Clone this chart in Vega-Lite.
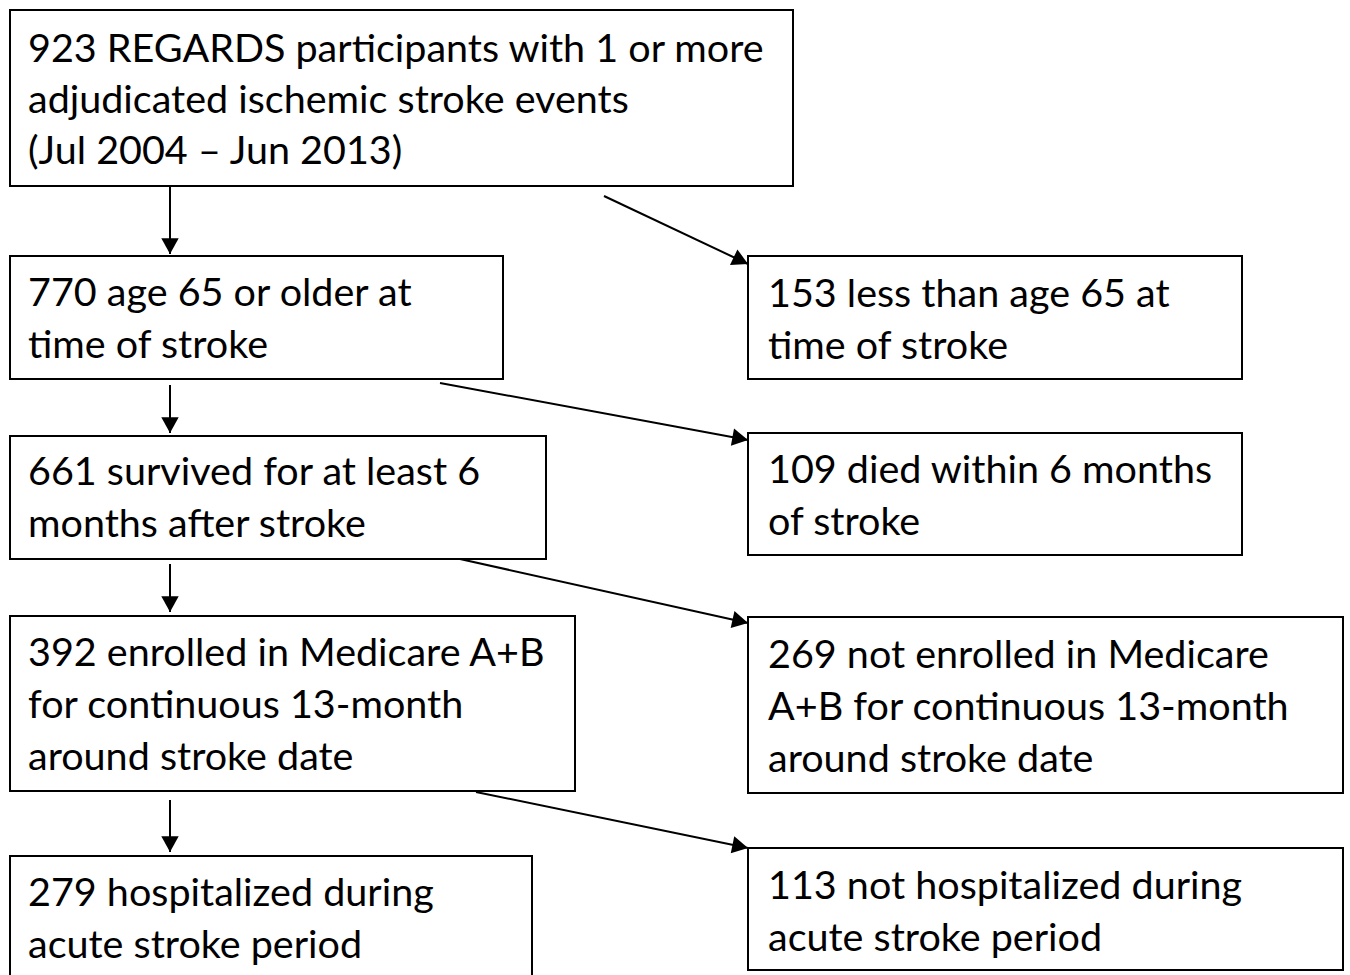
{
  "$schema": "https://vega.github.io/schema/vega-lite/v6.json",
  "width": 1350,
  "height": 975,
  "padding": 0,
  "autosize": {"type": "fit", "contains": "padding"},
  "background": "white",
  "config": {"view": {"stroke": null}},
  "datasets": {
    "boxes": [
      {"id": "b1", "x1": 10, "x2": 793, "y1": 10, "y2": 186},
      {"id": "b2", "x1": 10, "x2": 503, "y1": 256, "y2": 379},
      {"id": "b3", "x1": 10, "x2": 546, "y1": 436, "y2": 559},
      {"id": "b4", "x1": 10, "x2": 575, "y1": 616, "y2": 791},
      {"id": "b5", "x1": 10, "x2": 532, "y1": 856, "y2": 990},
      {"id": "r1", "x1": 748, "x2": 1242, "y1": 256, "y2": 379},
      {"id": "r2", "x1": 748, "x2": 1242, "y1": 433, "y2": 555},
      {"id": "r3", "x1": 748, "x2": 1343, "y1": 617, "y2": 793},
      {"id": "r4", "x1": 748, "x2": 1343, "y1": 848, "y2": 970}
    ],
    "arrows": [
      {"id": "v1", "x1": 170, "y1": 187, "x2": 170, "y2": 254},
      {"id": "v2", "x1": 170, "y1": 385, "x2": 170, "y2": 433},
      {"id": "v3", "x1": 170, "y1": 564, "x2": 170, "y2": 612},
      {"id": "v4", "x1": 170, "y1": 800, "x2": 170, "y2": 852},
      {"id": "d1", "x1": 604, "y1": 196, "x2": 748, "y2": 264},
      {"id": "d2", "x1": 440, "y1": 383, "x2": 748, "y2": 440},
      {"id": "d3", "x1": 460, "y1": 559, "x2": 748, "y2": 623},
      {"id": "d4", "x1": 476, "y1": 792, "x2": 748, "y2": 848}
    ],
    "lines": [
      {"x": 28, "y": 62, "text": "923 REGARDS participants with 1 or more"},
      {"x": 28, "y": 113, "text": "adjudicated ischemic stroke events"},
      {"x": 28, "y": 164, "text": "(Jul 2004 – Jun 2013)"},
      {"x": 28, "y": 306, "text": "770 age 65 or older at"},
      {"x": 28, "y": 358, "text": "time of stroke"},
      {"x": 768, "y": 307, "text": "153 less than age 65 at"},
      {"x": 768, "y": 359, "text": "time of stroke"},
      {"x": 28, "y": 485, "text": "661 survived for at least 6"},
      {"x": 28, "y": 537, "text": "months after stroke"},
      {"x": 768, "y": 483, "text": "109 died within 6 months"},
      {"x": 768, "y": 535, "text": "of stroke"},
      {"x": 28, "y": 666, "text": "392 enrolled in Medicare A+B"},
      {"x": 28, "y": 718, "text": "for continuous 13-month"},
      {"x": 28, "y": 770, "text": "around stroke date"},
      {"x": 768, "y": 668, "text": "269 not enrolled in Medicare"},
      {"x": 768, "y": 720, "text": "A+B for continuous 13-month"},
      {"x": 768, "y": 772, "text": "around stroke date"},
      {"x": 28, "y": 906, "text": "279 hospitalized during"},
      {"x": 28, "y": 958, "text": "acute stroke period"},
      {"x": 768, "y": 899, "text": "113 not hospitalized during"},
      {"x": 768, "y": 951, "text": "acute stroke period"}
    ]
  },
  "layer": [
    {
      "data": {"name": "boxes"},
      "mark": {"type": "rect", "fill": "white", "stroke": "black", "strokeWidth": 2, "clip": true},
      "encoding": {
        "x": {"field": "x1", "type": "quantitative", "scale": {"domain": [0, 1350], "nice": false, "zero": false}, "axis": null},
        "x2": {"field": "x2"},
        "y": {"field": "y1", "type": "quantitative", "scale": {"domain": [0, 975], "nice": false, "zero": false, "reverse": true}, "axis": null},
        "y2": {"field": "y2"}
      }
    },
    {
      "data": {"name": "arrows"},
      "mark": {"type": "rule", "stroke": "black", "strokeWidth": 2},
      "encoding": {
        "x": {"field": "x1", "type": "quantitative"},
        "x2": {"field": "x2"},
        "y": {"field": "y1", "type": "quantitative"},
        "y2": {"field": "y2"}
      }
    },
    {
      "data": {"name": "arrows"},
      "transform": [
        {"calculate": "atan2(datum.y2 - datum.y1, datum.x2 - datum.x1) * 180 / PI", "as": "ang"}
      ],
      "mark": {"type": "point", "shape": "M0,0L-1,-0.55L-1,0.55Z", "filled": true, "fill": "black", "stroke": null, "size": 1000, "opacity": 1},
      "encoding": {
        "x": {"field": "x2", "type": "quantitative"},
        "y": {"field": "y2", "type": "quantitative"},
        "angle": {"field": "ang", "type": "quantitative", "scale": null}
      }
    },
    {
      "data": {"name": "lines"},
      "mark": {"type": "text", "align": "left", "baseline": "alphabetic", "font": "Lato", "fontSize": 39.5, "fill": "black"},
      "encoding": {
        "x": {"field": "x", "type": "quantitative"},
        "y": {"field": "y", "type": "quantitative"},
        "text": {"field": "text"}
      }
    }
  ]
}
